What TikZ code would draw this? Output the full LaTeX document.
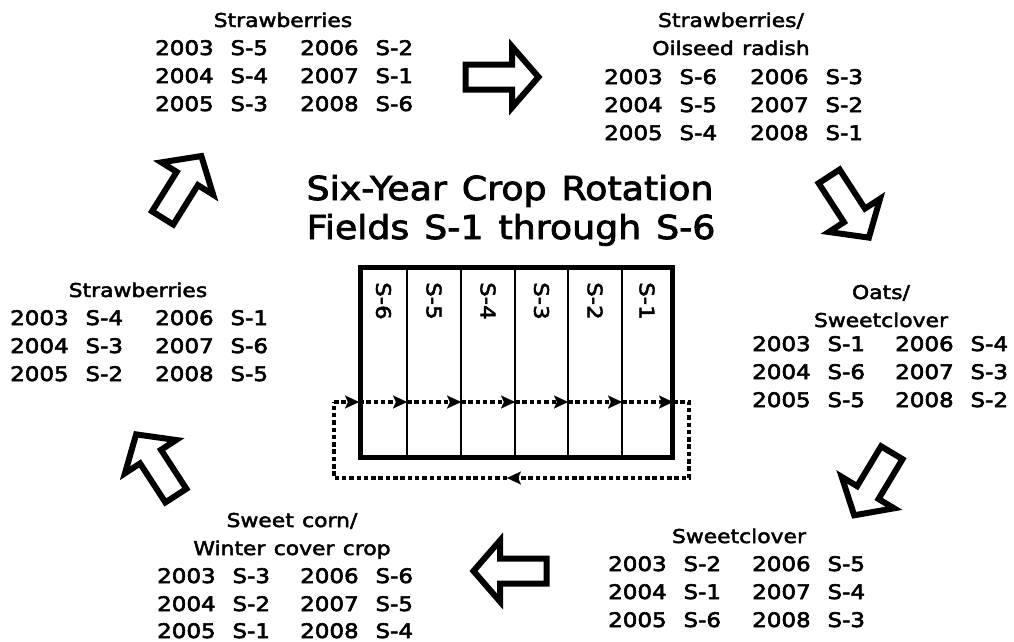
\documentclass[tikz,border=0pt]{standalone}
\usepackage{fontspec}
\setmainfont{DejaVu Sans}
\newfontfamily\entryfont{DejaVu Sans}[FakeStretch=1.15,WordSpace=2.3,FakeBold=3]
\newfontfamily\headfont{DejaVu Sans}[FakeStretch=1.15,WordSpace=1.2,FakeBold=2.5]
\newfontfamily\ttlfont{DejaVu Sans}[FakeStretch=1.1,WordSpace=1.3,FakeBold=2.5]
\usetikzlibrary{arrows.meta}
\begin{document}
\begin{tikzpicture}[x=1pt,y=-1pt,
  entry/.style={anchor=base west, inner sep=0pt, font=\entryfont\fontsize{20}{24}\selectfont},
  head/.style={anchor=base, inner sep=0pt, font=\headfont\fontsize{19}{23}\selectfont},
  ttl/.style={anchor=base, inner sep=0pt, font=\ttlfont\fontsize{33}{39}\selectfont},
  field/.style={rotate=-90, anchor=west, inner sep=0pt, font=\headfont\fontsize{20}{24}\selectfont},
  boxline/.style={line width=5pt},
  divline/.style={line width=2.8pt},
  dotline/.style={line width=4.5pt, dash pattern=on 4.5pt off 2.8pt},
  flowtip/.style={-{Stealth[length=14pt,width=13pt,inset=3pt,line width=0.1pt]}},
  blockarrow/.pic={\draw[line width=6pt, line join=miter, miter limit=10, fill=white]
     (-36.5,-12.5) -- (10,-12.5) -- (10,-30.5) -- (36.5,0) -- (10,30.5) -- (10,12.5) -- (-36.5,12.5) -- cycle;}
]
\useasboundingbox (0,0) rectangle (1014,641);
\fill[white] (0,0) rectangle (1014,641);

% title
\node[ttl] (title1) at (510,200) {Six-Year Crop Rotation};
\node[ttl] (title2) at (511,239) {Fields S-1 through S-6};

% field box
\draw[boxline] (360,267) rectangle (672,457);
\foreach \x/\n in {407/1,461/2,515/3,568/4,622/5}
  \draw[divline] (\x,267) -- (\x,457);
\node[field] (f6) at (383.5,282) {S-6};
\node[field] (f5) at (434,282) {S-5};
\node[field] (f4) at (488,282) {S-4};
\node[field] (f3) at (541.5,282) {S-3};
\node[field] (f2) at (595,282) {S-2};
\node[field] (f1) at (647,282) {S-1};

% dotted loop
\coordinate (L) at (334,402);
\coordinate (c0) at (359,402);
\coordinate (c1) at (407,402);
\coordinate (c2) at (461,402);
\coordinate (c3) at (515,402);
\coordinate (c4) at (568,402);
\coordinate (c5) at (622,402);
\coordinate (c6) at (673,402);
\coordinate (R) at (689,402);
\coordinate (RB) at (689,478);
\coordinate (M) at (507,478);
\coordinate (LB) at (334,478);
\draw[dotline,flowtip] (L) -- (c0);
\draw[dotline,flowtip] (c0) -- (c1);
\draw[dotline,flowtip] (c1) -- (c2);
\draw[dotline,flowtip] (c2) -- (c3);
\draw[dotline,flowtip] (c3) -- (c4);
\draw[dotline,flowtip] (c4) -- (c5);
\draw[dotline,flowtip] (c5) -- (c6);
\draw[dotline,flowtip] (c6) -- (R) -- (RB) -- (M);
\draw[dotline] (M) -- (LB) -- (L);

% block arrows
\pic[rotate=0] at (502,77) {blockarrow};
\pic[rotate=-57] at (849,207) {blockarrow};
\pic[rotate=-121] at (873,484) {blockarrow};
\pic[rotate=180] at (510,571) {blockarrow};
\pic[rotate=123] at (156,465) {blockarrow};
\pic[rotate=58] at (182,187) {blockarrow};

% top-left
\node[head] (tlh) at (283,27) {Strawberries};
\node[entry] (tl1) at (155,55) {2003 S-5};
\node[entry] (tl2) at (155,83) {2004 S-4};
\node[entry] (tl3) at (155,111) {2005 S-3};
\node[entry] (tl4) at (300,55) {2006 S-2};
\node[entry] (tl5) at (300,83) {2007 S-1};
\node[entry] (tl6) at (300,111) {2008 S-6};

% top-right
\node[head] (trh1) at (731,27) {Strawberries/};
\node[head] (trh2) at (731,55) {Oilseed radish};
\node[entry] (tr1) at (604,84) {2003 S-6};
\node[entry] (tr2) at (604,112) {2004 S-5};
\node[entry] (tr3) at (604,140) {2005 S-4};
\node[entry] (tr4) at (750,84) {2006 S-3};
\node[entry] (tr5) at (750,112) {2007 S-2};
\node[entry] (tr6) at (750,140) {2008 S-1};

% right
\node[head] (rh1) at (881,299) {Oats/};
\node[head] (rh2) at (881,327) {Sweetclover};
\node[entry] (r1) at (752,351) {2003 S-1};
\node[entry] (r2) at (752,379) {2004 S-6};
\node[entry] (r3) at (752,407) {2005 S-5};
\node[entry] (r4) at (895,351) {2006 S-4};
\node[entry] (r5) at (895,379) {2007 S-3};
\node[entry] (r6) at (895,407) {2008 S-2};

% bottom-right
\node[head] (brh) at (739,543) {Sweetclover};
\node[entry] (br1) at (608,571) {2003 S-2};
\node[entry] (br2) at (608,599) {2004 S-1};
\node[entry] (br3) at (608,627) {2005 S-6};
\node[entry] (br4) at (752,571) {2006 S-5};
\node[entry] (br5) at (752,599) {2007 S-4};
\node[entry] (br6) at (752,627) {2008 S-3};

% bottom-left
\node[head] (blh1) at (292,527) {Sweet corn/};
\node[head] (blh2) at (292,555) {Winter cover crop};
\node[entry] (bl1) at (157,583) {2003 S-3};
\node[entry] (bl2) at (157,611) {2004 S-2};
\node[entry] (bl3) at (157,638) {2005 S-1};
\node[entry] (bl4) at (300,583) {2006 S-6};
\node[entry] (bl5) at (300,611) {2007 S-5};
\node[entry] (bl6) at (300,638) {2008 S-4};

% left
\node[head] (lh) at (138,297) {Strawberries};
\node[entry] (l1) at (10,325) {2003 S-4};
\node[entry] (l2) at (10,353) {2004 S-3};
\node[entry] (l3) at (10,381) {2005 S-2};
\node[entry] (l4) at (155,325) {2006 S-1};
\node[entry] (l5) at (155,353) {2007 S-6};
\node[entry] (l6) at (155,381) {2008 S-5};
\end{tikzpicture}
\end{document}
